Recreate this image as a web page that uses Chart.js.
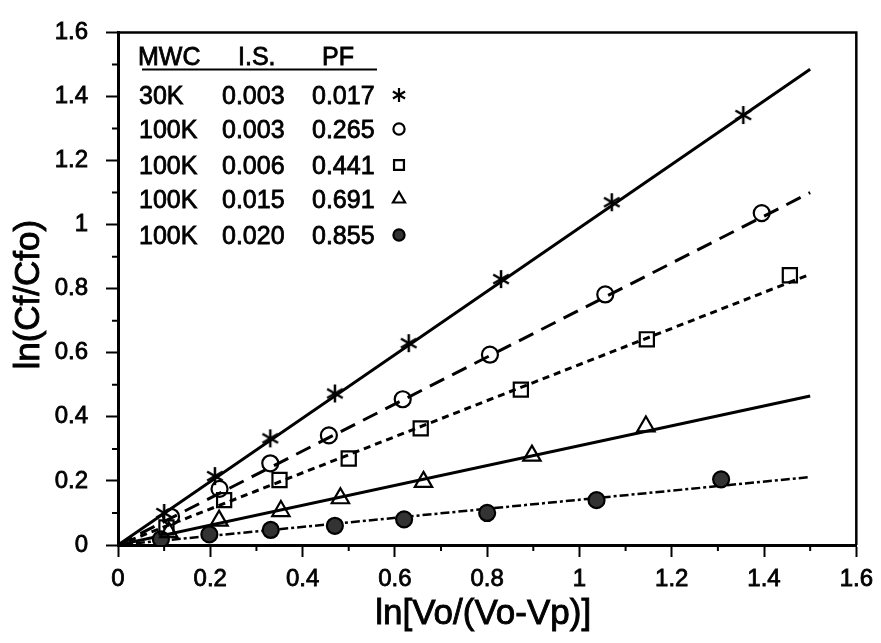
<!DOCTYPE html>
<html>
<head>
<meta charset="utf-8">
<script src="https://cdn.jsdelivr.net/npm/chart.js@4.4.0/dist/chart.umd.min.js"></script>
<style>
  html, body { margin: 0; padding: 0; background: #fff; }
  #wrap { width: 881px; height: 643px; }
</style>
</head>
<body>
<div id="wrap"><canvas id="chart" width="881" height="643"></canvas></div>
<script>
// values
const xTicks = [0, 0.2, 0.4, 0.6, 0.8, 1, 1.2, 1.4, 1.6];
const xTickLabels = ['0', '0.2', '0.4', '0.6', '0.8', '1', '1.2', '1.4', '1.6'];
const yTicks = [0, 0.2, 0.4, 0.6, 0.8, 1, 1.2, 1.4, 1.6];
const yTickLabels = ['0', '0.2', '0.4', '0.6', '0.8', '1', '1.2', '1.4', '1.6'];

const xTitle = 'ln[Vo/(Vo-Vp)]';
const yTitle = 'ln(Cf/Cfo)';

// legend table
const tableHead = ['MWC', 'I.S.', 'PF'];
const mwc = ['30K', '100K', '100K', '100K', '100K'];
const ionicStrength = ['0.003', '0.003', '0.006', '0.015', '0.020'];
const pf = ['0.017', '0.265', '0.441', '0.691', '0.855'];

// measured points
const starX = [0.10, 0.21, 0.33, 0.47, 0.63, 0.83, 1.07, 1.355];
const starY = [0.10, 0.215, 0.333, 0.473, 0.63, 0.83, 1.07, 1.342];
const circleX = [0.115, 0.22, 0.33, 0.457, 0.617, 0.806, 1.056, 1.395];
const circleY = [0.088, 0.175, 0.255, 0.342, 0.455, 0.594, 0.782, 1.036];
const squareX = [0.105, 0.23, 0.35, 0.50, 0.656, 0.873, 1.146, 1.456];
const squareY = [0.055, 0.14, 0.203, 0.27, 0.364, 0.485, 0.642, 0.842];
const triX = [0.11, 0.219, 0.353, 0.482, 0.662, 0.897, 1.144];
const triY = [0.04, 0.076, 0.106, 0.146, 0.197, 0.279, 0.37];
const dotX = [0.093, 0.198, 0.331, 0.47, 0.62, 0.80, 1.037, 1.307];
const dotY = [0.018, 0.033, 0.047, 0.06, 0.08, 0.10, 0.14, 0.205];

// fitted lines through the origin, drawn up to x = 1.5
const fitEndX = 1.5;
const fitEndY = [1.485, 1.10, 0.845, 0.465, 0.212];

const FONT = "'Liberation Sans', Arial, Helvetica, sans-serif";

function pts(xs, ys) {
  return xs.map((x, i) => ({ x: x, y: ys[i] }));
}

// six armed asterisk as an image point style
function makeStar(size, lw) {
  const c = document.createElement('canvas');
  c.width = size; c.height = size;
  const g = c.getContext('2d');
  const r = size / 2 - 1;
  g.strokeStyle = '#000';
  g.lineWidth = lw;
  g.translate(size / 2, size / 2);
  for (let a = 0; a < 3; a++) {
    const ang = Math.PI / 2 + a * Math.PI / 3;
    g.beginPath();
    g.moveTo(-r * Math.cos(ang), -r * Math.sin(ang));
    g.lineTo(r * Math.cos(ang), r * Math.sin(ang));
    g.stroke();
  }
  return c;
}
const starBig = makeStar(20, 2.5);
const starSmall = makeStar(16, 2.2);

const series = [
  { x: starX, y: starY, style: starBig, small: starSmall, radius: 10, fill: 'transparent', dash: [], width: 3 },
  { x: circleX, y: circleY, style: 'circle', radius: 8, fill: 'transparent', dash: [16, 9], width: 3 },
  { x: squareX, y: squareY, style: 'rect', radius: 10, fill: 'transparent', dash: [7, 5], width: 3 },
  { x: triX, y: triY, style: 'triangle', radius: 10, fill: 'transparent', dash: [], width: 3 },
  { x: dotX, y: dotY, style: 'circle', radius: 8, fill: '#333333', dash: [9, 3, 3, 3], width: 2.5 }
];

const datasets = [];
series.forEach((s, i) => {
  datasets.push({
    data: [{ x: 0, y: 0 }, { x: fitEndX, y: fitEndY[i] }],
    showLine: true,
    borderColor: '#000',
    borderWidth: s.width,
    borderDash: s.dash,
    pointRadius: 0,
    order: 2
  });
  datasets.push({
    data: pts(s.x, s.y),
    showLine: false,
    pointStyle: s.style,
    pointRadius: s.radius,
    pointBorderWidth: 2.2,
    pointBorderColor: '#000',
    pointBackgroundColor: s.fill,
    order: 1
  });
});

function heavyText(ctx, txt, x, y) {
  ctx.fillText(txt, x, y);
  ctx.strokeText(txt, x, y);
}

const extras = {
  id: 'extras',
  afterDraw(chart) {
    const ctx = chart.ctx;
    const a = chart.chartArea;
    const xs = chart.scales.x, ys = chart.scales.y;
    ctx.save();
    ctx.strokeStyle = '#000';
    ctx.fillStyle = '#000';

    // top and right frame
    ctx.lineWidth = 2.5;
    ctx.beginPath();
    ctx.moveTo(a.left, a.top);
    ctx.lineTo(a.right, a.top);
    ctx.lineTo(a.right, a.bottom);
    ctx.stroke();

    // minor ticks halfway between the labelled ones
    ctx.lineWidth = 2;
    ctx.beginPath();
    for (let i = 0; i < xTicks.length - 1; i++) {
      const px = xs.getPixelForValue((xTicks[i] + xTicks[i + 1]) / 2);
      ctx.moveTo(px, a.bottom);
      ctx.lineTo(px, a.bottom + 6);
    }
    for (let i = 0; i < yTicks.length - 1; i++) {
      const py = ys.getPixelForValue((yTicks[i] + yTicks[i + 1]) / 2);
      ctx.moveTo(a.left, py);
      ctx.lineTo(a.left - 6, py);
    }
    ctx.stroke();

    // axis titles
    ctx.lineWidth = 0.9;
    ctx.font = '35px ' + FONT;
    ctx.textAlign = 'center';
    ctx.textBaseline = 'alphabetic';
    heavyText(ctx, xTitle, (a.left + a.right) / 2 - 4, 624);
    ctx.save();
    ctx.translate(39, (a.top + a.bottom) / 2 + 6);
    ctx.rotate(-Math.PI / 2);
    heavyText(ctx, yTitle, 0, 0);
    ctx.restore();

    // legend table
    ctx.font = '25px ' + FONT;
    ctx.textAlign = 'left';
    ctx.lineWidth = 0.8;
    heavyText(ctx, tableHead[0], 138, 65);
    heavyText(ctx, tableHead[1], 238, 65);
    heavyText(ctx, tableHead[2], 322, 65);
    ctx.lineWidth = 2;
    ctx.beginPath();
    ctx.moveTo(142, 69.5);
    ctx.lineTo(377, 69.5);
    ctx.stroke();

    const rowY = [104, 138, 174, 208, 244];
    mwc.forEach((m, i) => {
      ctx.fillStyle = '#000';
      ctx.lineWidth = 0.8;
      heavyText(ctx, m, 139, rowY[i]);
      heavyText(ctx, ionicStrength[i], 222, rowY[i]);
      heavyText(ctx, pf[i], 312, rowY[i]);
      const s = series[i];
      ctx.fillStyle = s.fill;
      ctx.lineWidth = 2.2;
      Chart.helpers.drawPoint(ctx, {
        pointStyle: s.small || s.style,
        radius: s.radius * 0.7,
        rotation: 0,
        borderWidth: 2.2
      }, 399, rowY[i] - 9);
    });
    ctx.restore();
  }
};

new Chart(document.getElementById('chart'), {
  type: 'scatter',
  data: { datasets: datasets },
  options: {
    responsive: false,
    devicePixelRatio: 1,
    animation: false,
    layout: { padding: { top: 17, right: 19, left: 0, bottom: 0 } },
    plugins: { legend: { display: false }, tooltip: { enabled: false } },
    scales: {
      x: {
        type: 'linear',
        min: 0,
        max: 1.6,
        afterFit(scale) { scale.height = 98; },
        afterBuildTicks(scale) { scale.ticks = xTicks.map(v => ({ value: v })); },
        grid: { drawOnChartArea: false, drawTicks: true, tickLength: 12, tickWidth: 2, tickColor: '#000' },
        border: { display: true, color: '#000', width: 3 },
        ticks: {
          padding: 8,
          color: '#000',
          textStrokeColor: '#000',
          textStrokeWidth: 0.8,
          font: { family: FONT, size: 24 },
          maxRotation: 0,
          autoSkip: false,
          callback: (v, i) => xTickLabels[i]
        }
      },
      y: {
        type: 'linear',
        min: 0,
        max: 1.6,
        afterFit(scale) { scale.width = 118; },
        afterBuildTicks(scale) { scale.ticks = yTicks.map(v => ({ value: v })); },
        grid: { drawOnChartArea: false, drawTicks: true, tickLength: 12, tickWidth: 2, tickColor: '#000' },
        border: { display: true, color: '#000', width: 3 },
        ticks: {
          padding: 18,
          color: '#000',
          textStrokeColor: '#000',
          textStrokeWidth: 0.8,
          font: { family: FONT, size: 24 },
          autoSkip: false,
          callback: (v, i) => yTickLabels[i]
        }
      }
    }
  },
  plugins: [extras]
});
</script>
</body>
</html>
